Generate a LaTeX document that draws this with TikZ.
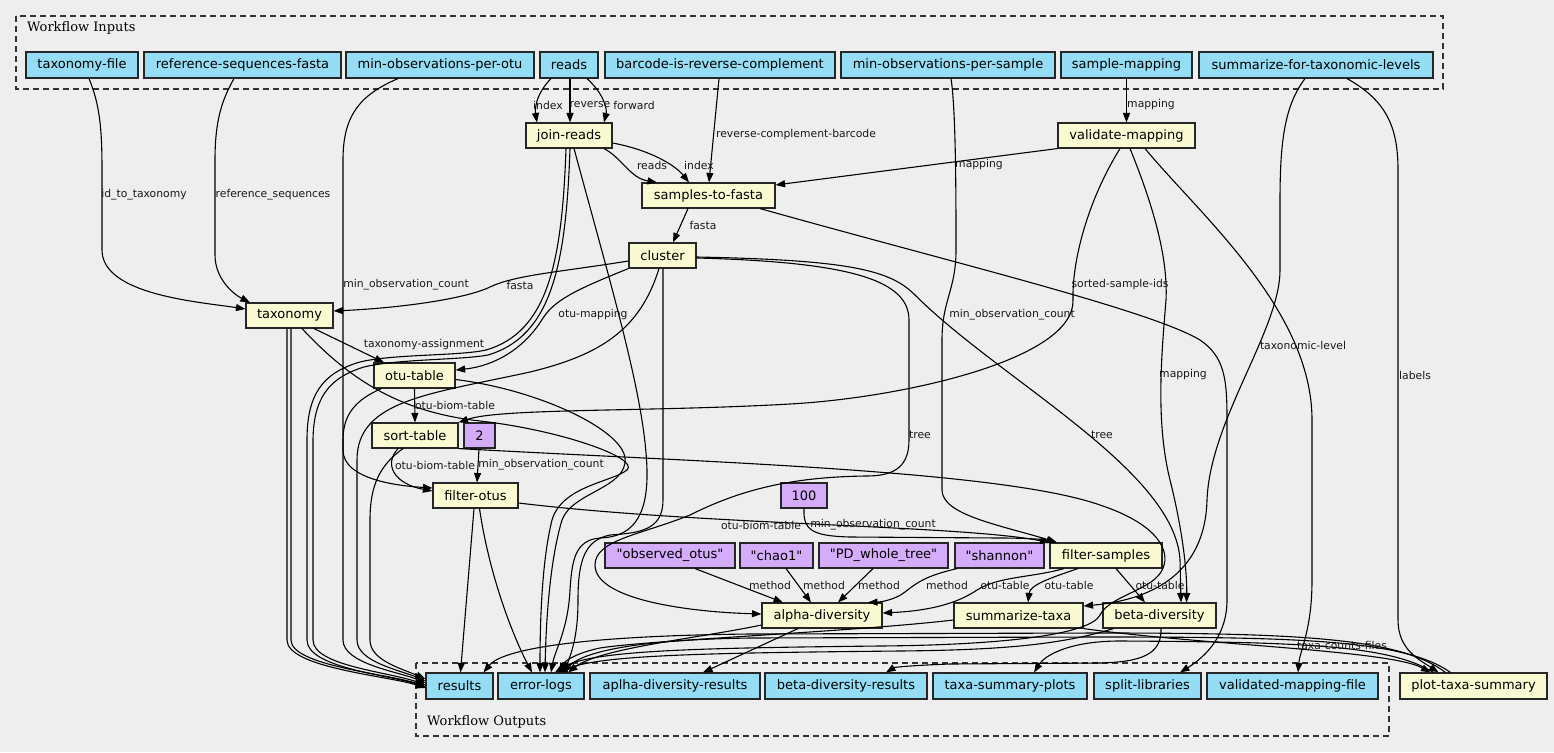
\documentclass[tikz,border=0pt]{standalone}
\usepackage{fontspec}
\usetikzlibrary{arrows.meta}
\newfontfamily\nf{DejaVu Sans}[Ligatures=TeXOff]
\newfontfamily\cf{DejaVu Serif}
\definecolor{bgc}{HTML}{EEEEEE}
\definecolor{inblue}{HTML}{94DDF4}
\definecolor{stepy}{HTML}{FAFAD2}
\definecolor{purp}{HTML}{D4ACFA}
\begin{document}
\begin{tikzpicture}[x=1pt,y=-1pt,
 box/.style={draw=black!85, line width=1.1pt, minimum height=25pt, inner sep=0pt, font=\nf\fontsize{13}{15}\selectfont},
 inp/.style={box, fill=inblue, minimum height=26pt},
 stp/.style={box, fill=stepy},
 val/.style={box, fill=purp},
 outp/.style={box, fill=inblue, minimum height=26pt},
 lbl/.style={font=\nf\fontsize{10.8}{12}\selectfont, inner sep=0pt, text=black!90},
 conn/.style={line width=1.1pt, -{Triangle[length=9.5pt,width=7pt]}},
 clus/.style={draw=black!80, line width=1.2pt, dash pattern=on 6pt off 4pt},
 clab/.style={font=\cf\fontsize{13}{15}\selectfont, inner sep=0pt, anchor=west},
]
\fill[bgc] (0,0) rectangle (1554,752);
\useasboundingbox (0,0) rectangle (1554,752);
% clusters
\draw[clus] (16,16) rectangle (1443,89);
\node[clab] (cin) at (27,28) {Workflow Inputs};
\draw[clus] (416,663) rectangle (1389,736);
\node[clab] (cout) at (427,722) {Workflow Outputs};
% inputs
\node[inp, minimum width=112pt] (tf) at (82,65) {taxonomy-file};
\node[inp, minimum width=197pt] (rsf) at (242.5,65) {reference-sequences-fasta};
\node[inp, minimum width=188pt] (mopo) at (440,65) {min-observations-per-otu};
\node[inp, minimum width=58pt] (reads) at (569,65) {reads};
\node[inp, minimum width=230pt] (bir) at (720,65) {barcode-is-reverse-complement};
\node[inp, minimum width=214pt] (mops) at (948,65) {min-observations-per-sample};
\node[inp, minimum width=131pt] (sm) at (1126.5,65) {sample-mapping};
\node[inp, minimum width=234pt] (sftl) at (1316,65) {summarize-for-taxonomic-levels};
% steps
\node[stp, minimum width=86pt] (jr) at (569,135.5) {join-reads};
\node[stp, minimum width=133pt] (stf) at (708.5,195.5) {samples-to-fasta};
\node[stp, minimum width=137pt] (vm) at (1126.5,135.5) {validate-mapping};
\node[stp, minimum width=67pt] (cl) at (662.5,255.5) {cluster};
\node[stp, minimum width=87pt] (tx) at (289.5,315.5) {taxonomy};
\node[stp, minimum width=81pt] (ot) at (414.5,375.5) {otu-table};
\node[stp, minimum width=86pt] (st) at (415,435.5) {sort-table};
\node[val, minimum width=31pt] (two) at (479.5,435.5) {2};
\node[stp, minimum width=85pt] (fo) at (475.5,495.5) {filter-otus};
\node[val, minimum width=46pt] (hun) at (804,495.5) {100};
\node[val, minimum width=130pt] (obs) at (670,555.5) {"observed\_otus"};
\node[val, minimum width=73pt] (chao) at (776.5,555.5) {"chao1"};
\node[val, minimum width=129pt] (pd) at (883.5,555.5) {"PD\_whole\_tree"};
\node[val, minimum width=89pt] (shan) at (999.5,555.5) {"shannon"};
\node[stp, minimum width=112pt] (fs) at (1106,555.5) {filter-samples};
\node[stp, minimum width=120pt] (ad) at (822,615.5) {alpha-diversity};
\node[stp, minimum width=129pt] (sumt) at (1018.5,615.5) {summarize-taxa};
\node[stp, minimum width=113pt] (bd) at (1159.5,615.5) {beta-diversity};
\node[stp, minimum width=147pt, minimum height=26pt] (pts) at (1473.5,686) {plot-taxa-summary};
% outputs
\node[outp, minimum width=67pt] (res) at (459.5,686) {results};
\node[outp, minimum width=86pt] (el) at (541,686) {error-logs};
\node[outp, minimum width=170pt] (adr) at (675,686) {aplha-diversity-results};
\node[outp, minimum width=162pt] (bdr) at (846,686) {beta-diversity-results};
\node[outp, minimum width=154pt] (tsp) at (1010,686) {taxa-summary-plots};
\node[outp, minimum width=107pt] (sl) at (1147.5,686) {split-libraries};
\node[outp, minimum width=171pt] (vmf) at (1292.5,686) {validated-mapping-file};

% ---------- connectors ----------
\draw[conn] ([xshift=7pt]tf.south) .. controls (100,105) and (102,130) .. (102,170) -- (102,250) .. controls (102,295) and (200,302) .. ([yshift=6.5pt]tx.west);
\draw[conn] ([xshift=-8.5pt]rsf.south) .. controls (222,100) and (215,120) .. (215,160) -- (215,255) .. controls (215,280) and (235,295) .. ([xshift=-39.5pt]tx.north);
\draw[conn] ([xshift=-42pt]mopo.south) .. controls (360,95) and (343,115) .. (343,160) -- (343,450) .. controls (343,480) and (400,486) .. ([yshift=7.5pt]fo.west);
\draw[conn] ([xshift=-18pt]reads.south) .. controls (535,95) and (535,110) .. ([xshift=-32pt]jr.north);
\draw[conn] ([xshift=1pt]reads.south) -- ([xshift=1pt]jr.north);
\draw[conn] ([xshift=18pt]reads.south) .. controls (605,95) and (607,110) .. ([xshift=35pt]jr.north);
\draw[conn] ([xshift=-1pt]bir.south) -- ([xshift=0.5pt]stf.north);
\draw[conn] ([xshift=35pt]jr.south) .. controls (622,158) and (630,178) .. ([xshift=-51.5pt]stf.north);
\draw[conn] ([yshift=-7.5pt]jr.east) .. controls (650,150) and (675,165) .. ([xshift=-19.5pt]stf.north);
\draw[conn] (sm.south) -- (vm.north);
\draw[conn] (vm.south west) -- ([yshift=10.5pt]stf.east);
\draw[conn] ([xshift=-20.5pt]stf.south) -- ([xshift=10.5pt]cl.north);
\draw[conn] ([yshift=-5.5pt]cl.west) .. controls (560,272) and (515,275) .. (490,287) .. controls (465,299) and (400,308) .. ([yshift=4.5pt]tx.east);
\draw[conn] (cl.south west) .. controls (575,290) and (555,300) .. (543,318) .. controls (525,348) and (495,366) .. ([yshift=5.5pt]ot.east);
\draw[conn] ([xshift=24.5pt]tx.south) -- ([xshift=-30.5pt]ot.north);
\draw[conn] (ot.south) -- (st.north);
\draw[conn] ([xshift=-6.5pt]vm.south) .. controls (1088,200) and (1072,260) .. (1073,300) .. controls (1075,360) and (900,398) .. (790,404) .. controls (650,412) and (500,408) .. (st.north east);
\draw[conn] ([xshift=-0.5pt]two.south) -- ([xshift=1.5pt]fo.north);
\draw[conn] ([xshift=-17pt]st.south) .. controls (383,465) and (395,484) .. ([yshift=4.5pt]fo.west);
\draw[conn] ([yshift=-7.5pt]fo.east) .. controls (700,525) and (960,525) .. (fs.north west);
\draw[conn] (hun.south) .. controls (803,530) and (812,536) .. (850,537) -- (1000,538) .. controls (1030,538) and (1048,540) .. ([xshift=-50pt]fs.north);
\draw[conn] ([xshift=3pt]mops.south) .. controls (956,110) and (956,200) .. (956,250) .. controls (956,290) and (942,300) .. (942,340) -- (942,490) .. controls (942,515) and (1000,525) .. ([xshift=-49pt]fs.north);
\draw[conn] ([yshift=-2.5pt]cl.east) .. controls (850,262) and (909,280) .. (909,320) -- (909,440) .. controls (909,470) and (890,476) .. (866,476) .. controls (790,477) and (740,490) .. (690,515) .. controls (640,535) and (595,540) .. (595,565) .. controls (595,600) and (690,612) .. ([yshift=1.5pt]ad.west);
\draw[conn] ([yshift=-1.5pt]cl.east) .. controls (850,260) and (890,270) .. (915,295) .. controls (1000,380) and (1175,470) .. (1180,560) -- ([xshift=21.5pt]bd.north);
\draw[conn] ([xshift=3.5pt]vm.south) .. controls (1155,210) and (1168,260) .. (1166,300) .. controls (1162,350) and (1155,420) .. (1170,480) .. controls (1185,540) and (1187,580) .. ([xshift=27pt]bd.north);
\draw[conn] ([xshift=18.5pt]vm.south) .. controls (1200,215) and (1312,310) .. (1312,420) -- (1312,580) .. controls (1312,630) and (1300,650) .. ([xshift=5.5pt]vmf.north);
\draw[conn] ([xshift=-11pt]sftl.south) .. controls (1285,105) and (1280,140) .. (1280,200) -- (1280,270) .. controls (1280,330) and (1210,420) .. (1207,500) .. controls (1205,575) and (1150,600) .. ([yshift=9.5pt]sumt.east);
\draw[conn] ([xshift=31pt]sftl.south) .. controls (1385,100) and (1398,125) .. (1398,170) -- (1398,620) .. controls (1398,650) and (1420,660) .. ([xshift=-35pt]pts.north);
\draw[conn] (sumt.south east) .. controls (1200,645) and (1390,650) .. ([xshift=-43pt]pts.north);
\draw[conn] ([xshift=51.5pt]stf.south) .. controls (950,262) and (1150,310) .. (1200,340) .. controls (1225,357) and (1227,380) .. (1227,420) -- (1227,600) .. controls (1227,640) and (1200,660) .. ([xshift=32.5pt]sl.north);
\draw[conn] ([xshift=-42pt]fs.south) .. controls (1030,578) and (1000,576) .. (977,590) .. controls (955,605) and (925,611) .. ([yshift=2.5pt]ad.east);
\draw[conn] ([xshift=-28pt]fs.south) .. controls (1050,578) and (1030,585) .. ([xshift=9.5pt]sumt.north);
\draw[conn] ([xshift=10pt]fs.south) -- ([xshift=-14.5pt]bd.north);
\draw[conn] ([xshift=25pt]obs.south) -- ([xshift=-39pt]ad.north);
\draw[conn] ([xshift=9.5pt]chao.south) -- ([xshift=-11pt]ad.north);
\draw[conn] ([xshift=-10.5pt]pd.south) -- ([xshift=16pt]ad.north);
\draw[conn] ([xshift=-42.5pt]shan.south) .. controls (930,575) and (920,580) .. (905,592) .. controls (895,600) and (880,602) .. ([xshift=46pt]ad.north);
\draw[conn] ([xshift=-24pt]ad.south) -- ([xshift=28pt]adr.north);
\draw[conn] ([yshift=-9.5pt]ad.west) .. controls (700,638) and (600,648) .. ([xshift=27pt]el.north);
\draw[conn] ([xshift=1.5pt]bd.south) .. controls (1162,655) and (1140,662) .. (1100,663) -- (950,664) .. controls (920,665) and (895,667) .. ([xshift=40pt]bdr.north);
\draw[conn] ([xshift=-40pt]pts.north) .. controls (1390,645) and (1300,642) .. (1120,641) .. controls (1070,641) and (1045,655) .. ([xshift=24pt]tsp.north);
% to results
\draw[conn] ([xshift=-2.5pt]tx.south) -- (287,640) .. controls (287,668) and (390,676) .. ([yshift=-2pt]res.west);
\draw[conn] ([xshift=1.5pt]tx.south) -- (291,640) .. controls (291,666) and (390,674) .. ([yshift=-0.5pt]res.west);
\draw[conn] ([xshift=-3pt]jr.south) .. controls (562,262) and (548,332) .. (486,350) .. controls (460,356) and (392,354) .. (360,362) .. controls (322,373) and (307,395) .. (307,440) -- (307,640) .. controls (307,668) and (390,675) .. ([yshift=-1pt]res.west);
\draw[conn] ([xshift=1pt]jr.south) .. controls (566,264) and (552,336) .. (488,355) .. controls (462,360) and (396,359) .. (364,367) .. controls (328,378) and (313,399) .. (313,442) -- (313,640) .. controls (313,666) and (390,672) .. ([yshift=1pt]res.west);
\draw[conn] ([xshift=-33pt]ot.south) .. controls (355,400) and (343,415) .. (343,440) -- (343,640) .. controls (343,664) and (400,672) .. ([yshift=3pt]res.west);
\draw[conn] ([xshift=-3.5pt]cl.south) .. controls (640,330) and (600,355) .. (530,372) .. controls (430,394) and (357,400) .. (357,460) -- (357,640) .. controls (357,662) and (400,670) .. ([yshift=5pt]res.west);
\draw[conn] ([xshift=-12pt]st.south) .. controls (380,465) and (370,485) .. (370,520) -- (370,640) .. controls (370,660) and (400,668) .. ([yshift=7pt]res.west);
\draw[conn] ([xshift=-1.5pt]fo.south) -- ([xshift=1pt]res.north);
\draw[conn] ([xshift=-28pt]pts.north) .. controls (1400,638) and (1300,633) .. (1100,633) -- (750,634) .. controls (560,636) and (500,652) .. ([xshift=24pt]res.north);
% to error-logs
\draw[conn] ([xshift=4pt]fo.south) .. controls (490,580) and (515,640) .. ([xshift=-9pt]el.north);
\draw[conn] ([xshift=5pt]jr.south) .. controls (615,300) and (645,400) .. (647,470) .. controls (648,520) and (630,537) .. (600,538) .. controls (575,540) and (572,560) .. (570,590) .. controls (568,630) and (555,650) .. ([xshift=10pt]el.north);
\draw[conn] ([xshift=0.5pt]cl.south) -- (663,500) .. controls (663,530) and (640,533) .. (610,535) .. controls (585,540) and (578,560) .. (578,600) .. controls (578,640) and (570,655) .. ([xshift=24pt]el.north);
\draw[conn] ([xshift=12.5pt]tx.south) .. controls (350,380) and (400,412) .. (480,421) .. controls (560,430) and (640,458) .. (627,470) .. controls (612,482) and (562,486) .. (552,520) .. controls (542,560) and (540,620) .. ([xshift=-1pt]el.north);
\draw[conn] ([yshift=-4pt]ot.east) .. controls (540,390) and (622,430) .. (625,458) .. controls (628,488) and (572,492) .. (562,520) .. controls (550,560) and (546,620) .. ([xshift=4pt]el.north);
\draw[conn] (st.south east) .. controls (700,462) and (1000,470) .. (1100,505) .. controls (1160,525) and (1170,552) .. (1163,568) .. controls (1155,590) and (1110,595) .. (1100,615) .. controls (1090,635) and (1000,645) .. (880,646) .. controls (700,648) and (590,650) .. ([xshift=14pt]el.north);
\draw[conn] ([yshift=-4.5pt]sumt.west) .. controls (850,632) and (650,640) .. (600,648) .. controls (580,652) and (565,660) .. ([xshift=19pt]el.north);
\draw[conn] ([xshift=-46pt]bd.south) .. controls (1060,645) and (1000,650) .. (900,651) .. controls (700,653) and (600,655) .. ([xshift=17pt]el.north);
\draw[conn] ([xshift=-23pt]pts.north) .. controls (1405,640) and (1300,637) .. (1100,637) -- (750,638) .. controls (620,640) and (580,655) .. ([xshift=22pt]el.north);

% ---------- labels ----------
\node[lbl] (l1) at (144,195) {id\_to\_taxonomy};
\node[lbl] (l2) at (273,195) {reference\_sequences};
\node[lbl] (l3) at (406,285) {min\_observation\_count};
\node[lbl] (l4) at (548,105) {index};
\node[lbl] (l5) at (590,105) {reverse};
\node[lbl] (l6) at (634,105) {forward};
\node[lbl] (l7) at (796,135) {reverse-complement-barcode};
\node[lbl] (l8) at (652,165) {reads};
\node[lbl] (l9) at (699,165) {index};
\node[lbl] (l10) at (1151,105) {mapping};
\node[lbl] (l11) at (979,165) {mapping};
\node[lbl] (l12) at (703,225) {fasta};
\node[lbl] (l13) at (520,285) {fasta};
\node[lbl] (l14) at (593,315) {otu-mapping};
\node[lbl] (l15) at (424,345) {taxonomy-assignment};
\node[lbl] (l16) at (455,405) {otu-biom-table};
\node[lbl] (l17) at (435,465) {otu-biom-table};
\node[lbl] (l18) at (541,465) {min\_observation\_count};
\node[lbl] (l19) at (1120,285) {sorted-sample-ids};
\node[lbl] (l20) at (1012,315) {min\_observation\_count};
\node[lbl] (l21) at (920,435) {tree};
\node[lbl] (l22) at (1102,435) {tree};
\node[lbl] (l23) at (1183,375) {mapping};
\node[lbl] (l24) at (1303,345) {taxonomic-level};
\node[lbl] (l25) at (1415,375) {labels};
\node[lbl] (l26) at (761,525) {otu-biom-table};
\node[lbl] (l27) at (873,525) {min\_observation\_count};
\node[lbl] (l28) at (770,585) {method};
\node[lbl] (l29) at (824,585) {method};
\node[lbl] (l30) at (879,585) {method};
\node[lbl] (l31) at (947,585) {method};
\node[lbl] (l32) at (1005,585) {otu-table};
\node[lbl] (l33) at (1069,585) {otu-table};
\node[lbl] (l34) at (1160,585) {otu-table};
\node[lbl] (l35) at (1342,645) {taxa-counts-files};
\end{tikzpicture}
\end{document}
